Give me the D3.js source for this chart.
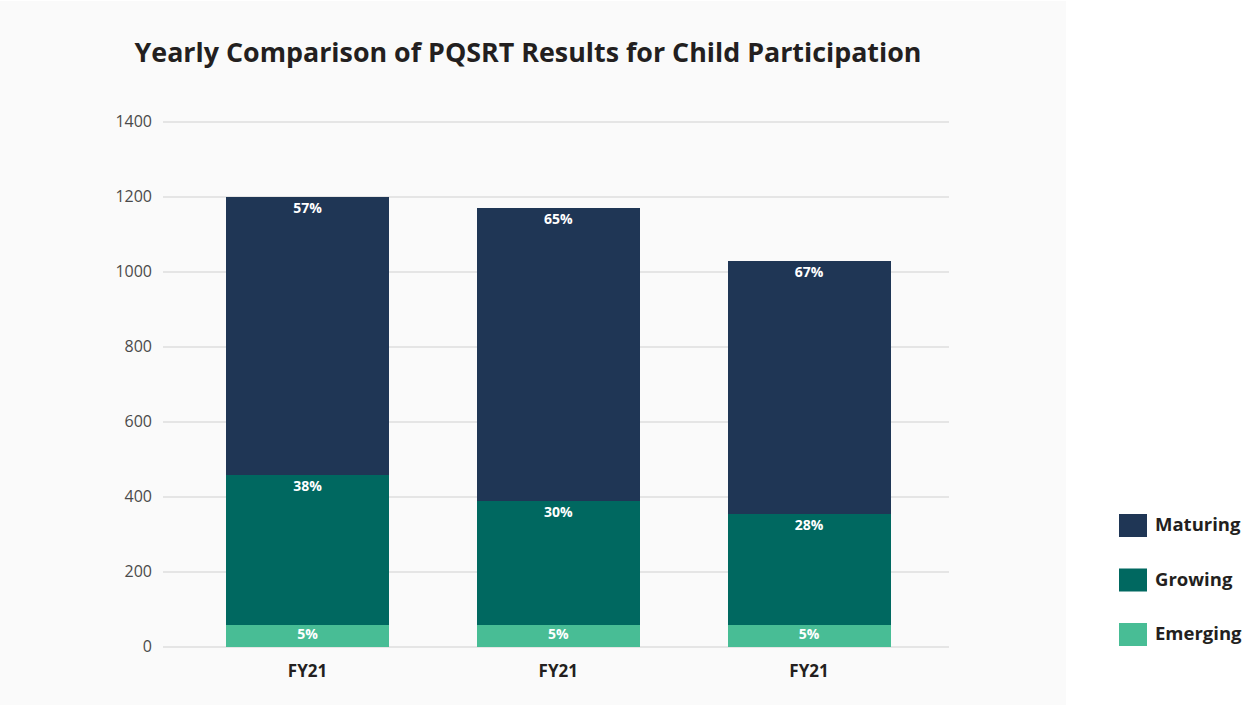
<!DOCTYPE html>
<html><head><meta charset="utf-8">
<script src="https://cdn.jsdelivr.net/npm/d3@7"></script>
<style>body{margin:0;background:#fff;}svg{display:block;}</style>
</head><body><svg id="c" width="1247" height="706"></svg>
<script>
const categories = ["FY21", "FY21", "FY21"];
const seriesNames = ["Emerging", "Growing", "Maturing"];
const emerging = [60, 60, 60];
const growing = [400, 330, 295];
const maturing = [740, 780, 675];
const emergingLabels = ["5%", "5%", "5%"];
const growingLabels = ["38%", "30%", "28%"];
const maturingLabels = ["57%", "65%", "67%"];
const yTicks = [0, 200, 400, 600, 800, 1000, 1200, 1400];
const colors = {Maturing: "#1f3655", Growing: "#006860", Emerging: "#48bd95"};
const legendOrder = ["Maturing", "Growing", "Emerging"];

const svg = d3.select("#c");
const font = "'Open Sans', 'Noto Sans', sans-serif";
svg.append("rect").attr("x", 0).attr("y", 1).attr("width", 1066).attr("height", 704).attr("fill", "#fafafa");

const y = d3.scaleLinear().domain([0, 1400]).range([647, 122]);
const x = d3.scaleBand().domain(d3.range(categories.length)).range([226, 890.5]).paddingInner(0.35).paddingOuter(0);

// title
const title = svg.append("text").attr("x", 528).attr("y", 62).attr("text-anchor", "middle")
  .attr("font-family", font).attr("font-weight", 700).attr("font-size", 28).attr("fill", "#231f20")
  .text("Yearly Comparison of PQSRT Results for Child Participation");
const tw = title.node().getComputedTextLength();
title.attr("font-size", 28 * 787 / tw);

// grid
const grid = svg.append("g");
yTicks.forEach(t => {
  grid.append("line").attr("x1", 163).attr("x2", 949).attr("y1", y(t)).attr("y2", y(t))
    .attr("stroke", "#d0d0d0").attr("stroke-width", 1.2);
});
const axis = d3.axisLeft(y).tickValues(yTicks).tickSize(0).tickPadding(0).tickFormat(d3.format("d"));
const ag = svg.append("g").attr("transform", "translate(152,-1)").call(axis);
ag.select(".domain").remove();
ag.selectAll("text").attr("font-family", font).attr("font-size", 16).attr("fill", "#4a4a4a").attr("font-weight", 400);

// stack
const rows = categories.map((c, i) => ({i, Emerging: emerging[i], Growing: growing[i], Maturing: maturing[i]}));
const labels = {Emerging: emergingLabels, Growing: growingLabels, Maturing: maturingLabels};
const stack = d3.stack().keys(seriesNames)(rows);
stack.forEach(layer => {
  const g = svg.append("g");
  g.selectAll("rect").data(layer).join("rect")
    .attr("x", d => x(d.data.i)).attr("width", x.bandwidth())
    .attr("y", d => y(d[1])).attr("height", d => y(d[0]) - y(d[1]))
    .attr("fill", colors[layer.key]).attr("shape-rendering", "crispEdges");
  g.selectAll("text").data(layer).join("text")
    .attr("x", d => x(d.data.i) + x.bandwidth() / 2)
    .attr("y", d => layer.key === "Emerging" ? (y(d[0]) + y(d[1])) / 2 + 3.5 : y(d[1]) + 16)
    .attr("text-anchor", "middle").attr("font-family", font).attr("font-weight", 700)
    .attr("font-size", 14).attr("fill", "#fff")
    .text(d => labels[layer.key][d.data.i]);
});

// x labels
svg.append("g").selectAll("text").data(categories).join("text")
  .attr("x", (d, i) => x(i) + x.bandwidth() / 2).attr("y", 677)
  .attr("text-anchor", "middle").attr("font-family", font).attr("font-weight", 700)
  .attr("font-size", 17).attr("fill", "#231f20").text(d => d);

// legend
const lg = svg.append("g");
legendOrder.forEach((k, i) => {
  const yy = 514 + i * 54.5;
  lg.append("rect").attr("x", 1119).attr("y", yy).attr("width", 28).attr("height", 23).attr("fill", colors[k]);
  lg.append("text").attr("x", 1155).attr("y", yy + 17).attr("font-family", font).attr("font-weight", 700)
    .attr("font-size", 18.5).attr("fill", "#231f20").text(k);
});
</script></body></html>
